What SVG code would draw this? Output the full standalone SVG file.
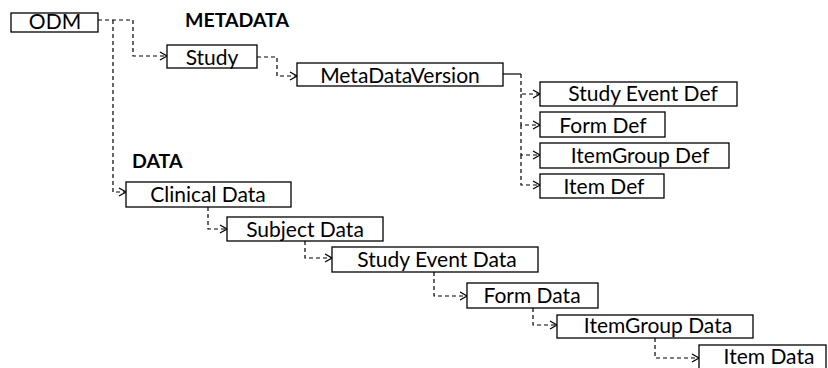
<svg xmlns="http://www.w3.org/2000/svg" width="828" height="368" viewBox="0 0 828 368">
  <defs>
    <marker id="arrow" markerUnits="userSpaceOnUse" markerWidth="10" markerHeight="10" viewBox="0 0 10 10" refX="8" refY="5" orient="auto">
      <path d="M1,1 L8,5 L1,9" fill="none" stroke="#000" stroke-width="1.3"/>
    </marker>
    <style>
      .box { fill: #fff; stroke: #000; stroke-width: 1.3; }
      .lbl { font-family: Lato, "Open Sans", "Liberation Sans", sans-serif; font-size: 21px; fill: #000; text-anchor: middle; }
      .hdr { font-family: Lato, "Open Sans", "Liberation Sans", sans-serif; font-size: 19.5px; font-weight: bold; fill: #000; }
      .link { fill: none; stroke: #000; stroke-width: 1.2; stroke-dasharray: 4 3; marker-end: url(#arrow); }
      .solid { fill: none; stroke: #000; stroke-width: 1.2; }
    </style>
  </defs>

  <rect width="828" height="368" fill="#fff"/>

  <!-- section headings -->
  <text class="hdr" x="185" y="27">METADATA</text>
  <text class="hdr" x="132" y="168">DATA</text>

  <!-- connectors -->
  <g id="connectors">
    <path class="link" d="M98,20 H133 V56 H167"/>
    <path class="link" d="M113,20 V192 H126"/>
    <path class="link" d="M257,57 H277 V76 H297"/>
    <path class="solid" d="M503,74 H521"/>
    <path class="link" d="M521,74 V94 H540"/>
    <path class="link" d="M521,94 V125 H540"/>
    <path class="link" d="M521,125 V155 H540"/>
    <path class="link" d="M521,155 V185 H540"/>
    <path class="link" d="M208,207 V229 H227"/>
    <path class="link" d="M305,241 V258 H332"/>
    <path class="link" d="M434,272 V296 H467"/>
    <path class="link" d="M533,308 V325 H557"/>
    <path class="link" d="M655,338 V358 H699"/>
  </g>

  <!-- metadata tree -->
  <g id="odm">
    <rect class="box" x="11" y="13" width="87" height="19"/>
    <text class="lbl" x="55" y="29">ODM</text>
  </g>
  <g id="study">
    <rect class="box" x="167" y="45" width="90" height="23"/>
    <text class="lbl" x="212" y="65">Study</text>
  </g>
  <g id="metadataversion">
    <rect class="box" x="297" y="63" width="206" height="23"/>
    <text class="lbl" x="400" y="83">MetaDataVersion</text>
  </g>
  <g id="studyeventdef">
    <rect class="box" x="540" y="82" width="197" height="24"/>
    <text class="lbl" x="643" y="101">Study Event Def</text>
  </g>
  <g id="formdef">
    <rect class="box" x="540" y="112" width="125" height="25"/>
    <text class="lbl" x="603" y="133">Form Def</text>
  </g>
  <g id="itemgroupdef">
    <rect class="box" x="540" y="143" width="189" height="25"/>
    <text class="lbl" x="640" y="163">ItemGroup Def</text>
  </g>
  <g id="itemdef">
    <rect class="box" x="540" y="174" width="124" height="24"/>
    <text class="lbl" x="604" y="194">Item Def</text>
  </g>

  <!-- data tree -->
  <g id="clinicaldata">
    <rect class="box" x="126" y="182" width="165" height="25"/>
    <text class="lbl" x="208" y="202">Clinical Data</text>
  </g>
  <g id="subjectdata">
    <rect class="box" x="227" y="217" width="156" height="24"/>
    <text class="lbl" x="305" y="237">Subject Data</text>
  </g>
  <g id="studyeventdata">
    <rect class="box" x="332" y="247" width="206" height="25"/>
    <text class="lbl" x="437" y="267">Study Event Data</text>
  </g>
  <g id="formdata">
    <rect class="box" x="467" y="283" width="131" height="25"/>
    <text class="lbl" x="532" y="303">Form Data</text>
  </g>
  <g id="itemgroupdata">
    <rect class="box" x="557" y="315" width="196" height="23"/>
    <text class="lbl" x="658" y="333">ItemGroup Data</text>
  </g>
  <g id="itemdata">
    <rect class="box" x="699" y="345" width="127" height="30"/>
    <text class="lbl" x="769" y="364">Item Data</text>
  </g>
</svg>
